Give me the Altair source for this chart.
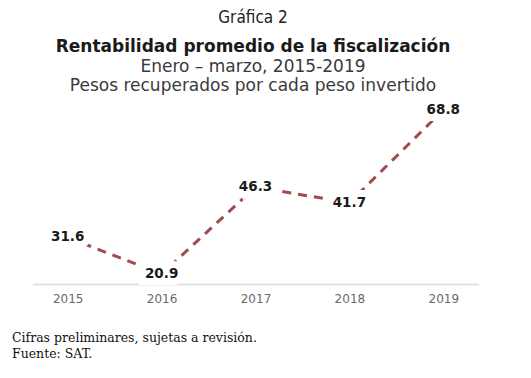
import altair as alt
import pandas as pd

years = ["2015", "2016", "2017", "2018", "2019"]
values = [31.6, 20.9, 46.3, 41.7, 68.8]
labels = ["31.6", "20.9", "46.3", "41.7", "68.8"]

title_main = "Rentabilidad promedio de la fiscalización"
subtitle_1 = "Enero – marzo, 2015-2019"
subtitle_2 = "Pesos recuperados por cada peso invertido"
chart_num = "Gráfica 2"
footer_lines = "Cifras preliminares, sujetas a revisión.\nFuente: SAT."

df = pd.DataFrame({"year": years, "value": values, "label": labels})

xenc = alt.X("year:O", scale=alt.Scale(type="point", padding=0.37),
             axis=alt.Axis(title=None, labelAngle=0, ticks=False, domainColor="#e2e2e2",
                           domainWidth=2, labelColor="#6a6a6a", labelFont="DejaVu Sans",
                           labelFontSize=12, labelPadding=9, grid=False))
yenc = alt.Y("value:Q", scale=alt.Scale(domain=[18, 72], nice=False, zero=False), axis=None)

base = alt.Chart(df).encode(x=xenc, y=yenc)

line = base.mark_line(color="#a24a4d", strokeWidth=3, strokeDash=[9, 7])
halo = base.mark_text(font="DejaVu Sans", fontSize=13.5, fontWeight="bold", color="white",
                      stroke="white", strokeWidth=14).encode(text="label:N")
txt = base.mark_text(font="DejaVu Sans", fontSize=13.5, fontWeight="bold", color="#1a1a1a").encode(text="label:N")

one = pd.DataFrame({"a": [0]})


def note(text, x, y, **kw):
    return alt.Chart(one).mark_text(text=text, baseline="middle", **kw).encode(
        x=alt.value(x), y=alt.value(y))


graf = note(chart_num, 220, -81, font="Liberation Sans Narrow, DejaVu Sans Condensed, sans-serif",
            fontSize=17, color="#222222", align="center")
t1 = note(title_main, 220, -52, font="DejaVu Sans", fontSize=17, fontWeight="bold",
          color="#1a1a1a", align="center")
t2 = note(subtitle_1, 220, -32, font="DejaVu Sans", fontSize=17, color="#3a3a3a", align="center")
t3 = note(subtitle_2, 220, -13, font="DejaVu Sans", fontSize=17, color="#3a3a3a", align="center")
footer = alt.Chart(one).mark_text(text=footer_lines, lineBreak="\n", lineHeight=16,
                                  font="DejaVu Serif", fontSize=12.5, color="#111111",
                                  align="left", baseline="middle").encode(
    x=alt.value(-21), y=alt.value(239))

chart = alt.layer(line, halo, txt, graf, t1, t2, t3, footer).properties(
    width=445, height=185,
    background="white",
    autosize=alt.AutoSizeParams(type="none"),
    padding={"left": 25, "top": 91, "right": 45, "bottom": 80},
).configure_view(strokeWidth=0, stroke="transparent")

chart.save("out.html", embed_options={"renderer": "svg", "actions": False})
